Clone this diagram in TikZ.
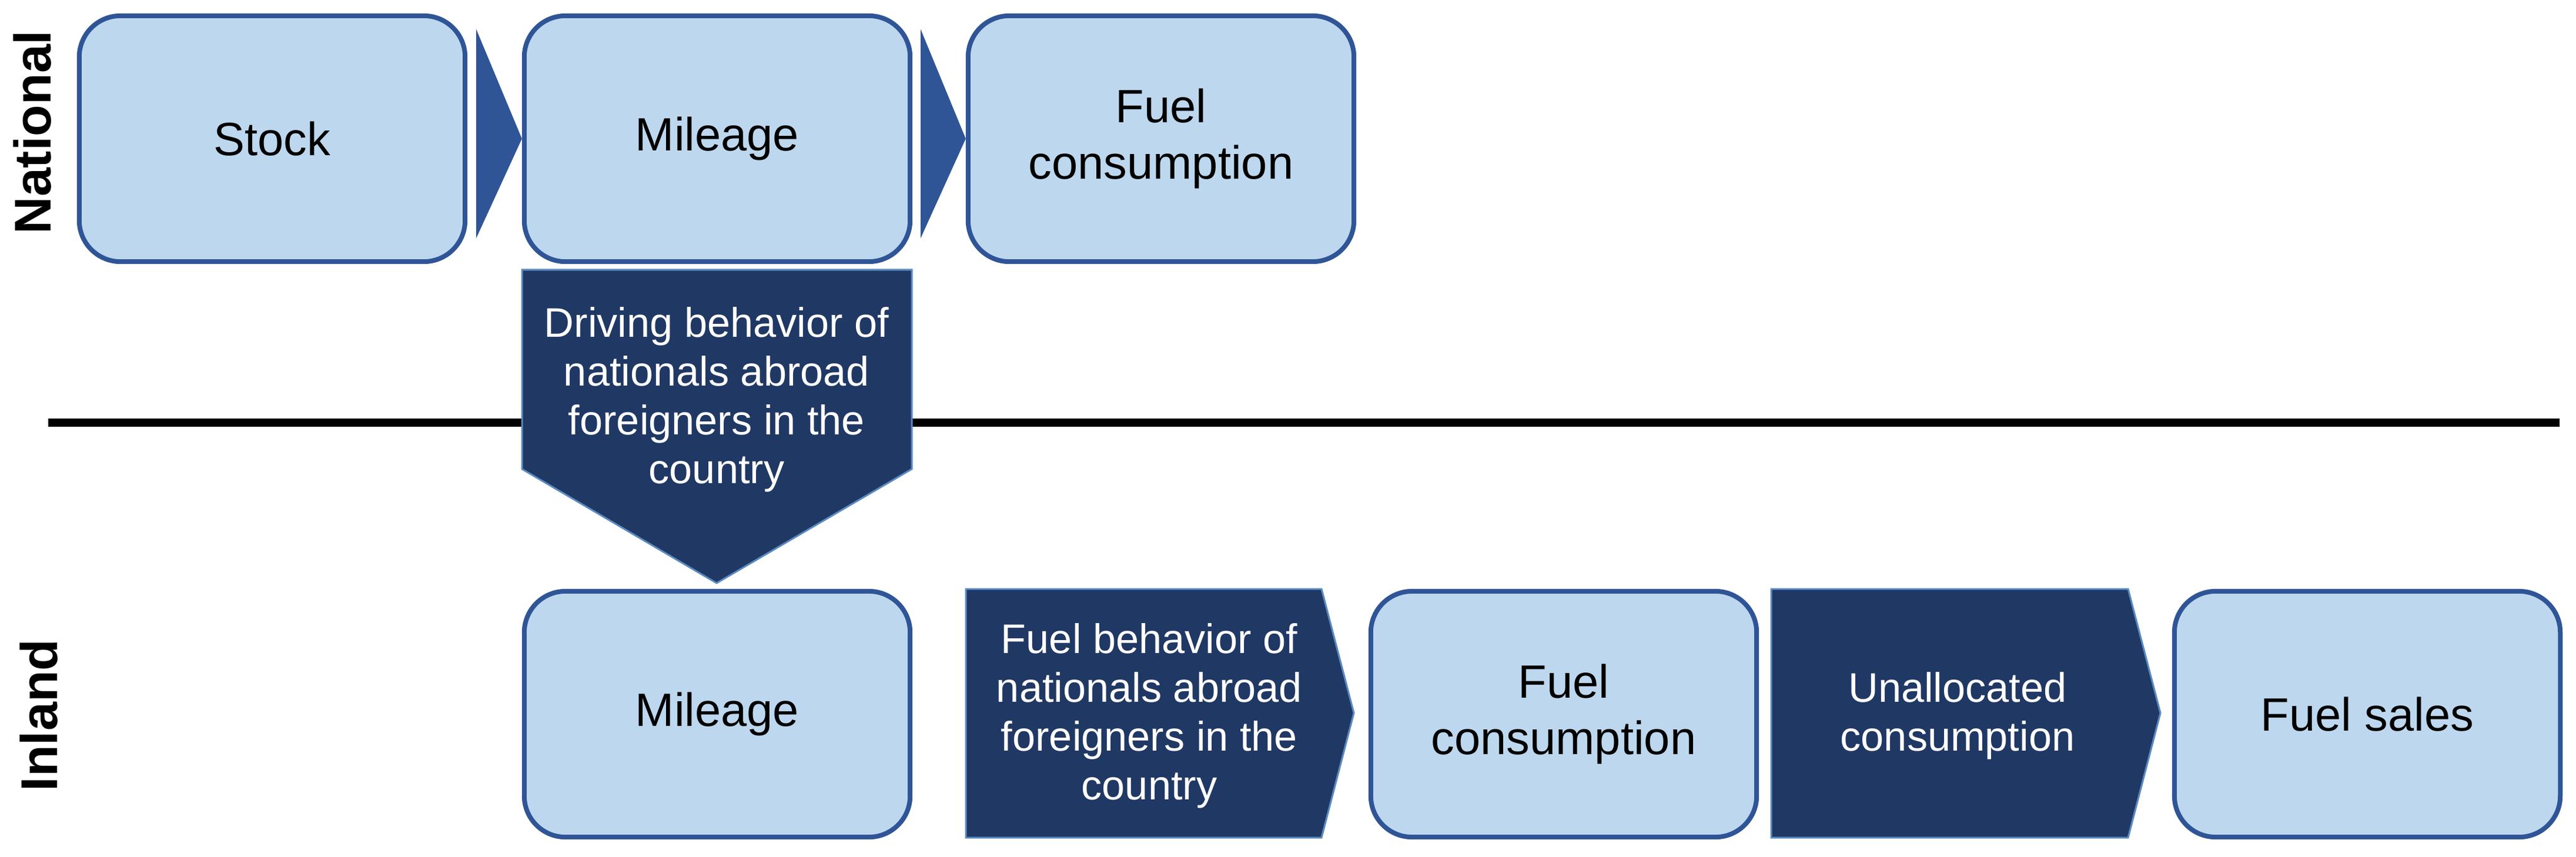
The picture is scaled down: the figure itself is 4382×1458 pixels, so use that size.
\documentclass[tikz,border=0pt]{standalone}
\usepackage{fontspec}
\setmainfont{Liberation Sans}
\usetikzlibrary{calc}
\definecolor{boxfill}{HTML}{BDD7EE}
\definecolor{boxline}{HTML}{2F5597}
\definecolor{darkfill}{HTML}{203864}
\definecolor{darkline}{HTML}{5A8AC0}
\begin{document}
\begin{tikzpicture}[x=0.01cm, y=-0.01cm,
		lightbox/.style={draw=boxline, line width=0.08cm, fill=boxfill, rounded corners=0.7cm, minimum width=6.56cm, minimum height=4.18cm, align=center, font=\fontsize{22.6}{27.5}\selectfont},
		darkshape/.style={fill=darkfill, draw=darkline, line width=0.03cm},
		darktext/.style={text=white, align=center, font=\fontsize{20}{23.6}\selectfont},
		sidelabel/.style={rotate=90, font=\bfseries\fontsize{25}{30}\selectfont},
		tri/.style={fill=boxline}]
		\useasboundingbox (0,0) rectangle (4382,1458);
		% separator
		\draw[line width=0.14cm] (82,719) -- (4354,719);
		\node[sidelabel] (national) at (55,225) {National};
		\node[sidelabel] (inland) at (66,1217) {Inland};
		% national row
		\node[lightbox] (stock) at (463,236) {Stock};
		\node[lightbox] (mileN) at (1220,236) {Mileage};
		\node[lightbox] (fuelN) at (1975,236) {Fuel\\consumption};
		\fill[tri] ($(stock.east)+(15,-186)$) -- (mileN.west) -- ($(stock.east)+(15,169)$) -- cycle;
		\fill[tri] ($(mileN.east)+(14,-186)$) -- (fuelN.west) -- ($(mileN.east)+(14,169)$) -- cycle;
		% down arrow
		\path[darkshape] (888,459) -- (1551,459) -- (1551,798) -- (1219,992) -- (888,798) -- cycle;
		\node[darktext] (drive) at (1219,680) {Driving behavior of\\nationals abroad\\foreigners in the\\country};
		% inland row
		\node[lightbox] (mileI) at (1220,1215) {Mileage};
		\path[darkshape] (1643,1002) -- (2248,1002) -- (2303,1213) -- (2248,1425) -- (1643,1425) -- cycle;
		\node[darktext] (fuelbeh) at (1955,1218) {Fuel behavior of\\nationals abroad\\foreigners in the\\country};
		\node[lightbox] (fuelI) at (2660,1215) {Fuel\\consumption};
		\path[darkshape] (3013,1002) -- (3620,1002) -- (3675,1213) -- (3620,1425) -- (3013,1425) -- cycle;
		\node[darktext] (unalloc) at (3330,1218) {Unallocated\\consumption};
		\node[lightbox] (sales) at (4027,1215) {Fuel sales};
\end{tikzpicture}
\end{document}
